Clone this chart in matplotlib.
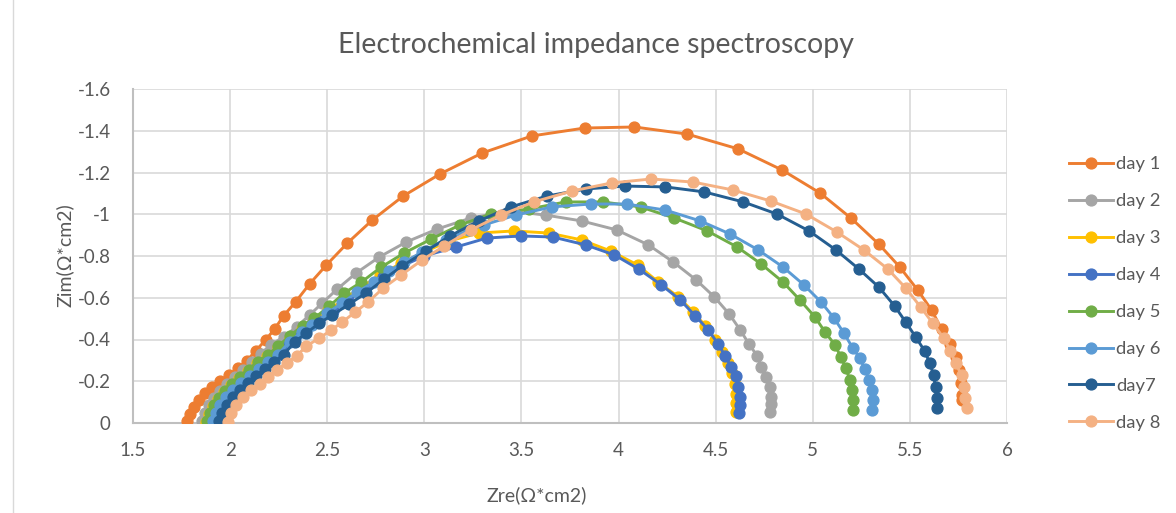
import matplotlib.pyplot as plt
from matplotlib.lines import Line2D

# Nyquist data: Zre (ohm*cm2) and |Zim| (ohm*cm2)
day1_zre = [1.777, 1.793, 1.813, 1.839, 1.870, 1.906, 1.947, 1.993, 2.039, 2.085, 2.131,
            2.183, 2.229, 2.275, 2.337, 2.409, 2.496, 2.604, 2.732, 2.891, 3.081, 3.297,
            3.553, 3.825, 4.082, 4.354, 4.616, 4.842, 5.037, 5.196, 5.340, 5.448, 5.540,
            5.612, 5.663, 5.704, 5.735, 5.751, 5.761, 5.766, 5.766]
day1_zim = [0.010, 0.043, 0.077, 0.110, 0.144, 0.172, 0.201, 0.230, 0.263, 0.297, 0.345,
            0.398, 0.450, 0.513, 0.580, 0.666, 0.757, 0.862, 0.972, 1.087, 1.193, 1.293,
            1.375, 1.413, 1.418, 1.384, 1.313, 1.212, 1.102, 0.982, 0.857, 0.747, 0.637,
            0.541, 0.450, 0.378, 0.316, 0.254, 0.192, 0.134, 0.110]

day2_zre = [1.854, 1.870, 1.890, 1.916, 1.947, 1.983, 2.024, 2.065, 2.111, 2.157, 2.208,
            2.275, 2.342, 2.409, 2.475, 2.552, 2.650, 2.768, 2.907, 3.066, 3.240, 3.435,
            3.625, 3.810, 3.990, 4.154, 4.282, 4.400, 4.493, 4.570, 4.626, 4.672, 4.714,
            4.734, 4.760, 4.780, 4.785, 4.785, 4.780]
day2_zim = [0.010, 0.048, 0.086, 0.120, 0.153, 0.187, 0.220, 0.254, 0.292, 0.331, 0.374,
            0.412, 0.460, 0.517, 0.575, 0.642, 0.719, 0.795, 0.867, 0.929, 0.982, 1.016,
            0.996, 0.968, 0.925, 0.853, 0.771, 0.685, 0.604, 0.522, 0.446, 0.378, 0.321,
            0.268, 0.220, 0.172, 0.125, 0.091, 0.053]

day3_zre = [1.875, 1.890, 1.911, 1.936, 1.967, 2.003, 2.044, 2.090, 2.137, 2.188, 2.244,
            2.306, 2.368, 2.434, 2.506, 2.588, 2.676, 2.773, 2.881, 2.999, 3.127, 3.281,
            3.461, 3.641, 3.810, 3.959, 4.098, 4.205, 4.308, 4.385, 4.447, 4.498, 4.534,
            4.565, 4.585, 4.601, 4.606, 4.606, 4.606]
day3_zim = [0.005, 0.043, 0.081, 0.115, 0.149, 0.182, 0.216, 0.249, 0.287, 0.321, 0.364,
            0.407, 0.450, 0.493, 0.541, 0.594, 0.652, 0.709, 0.766, 0.819, 0.872, 0.910,
            0.920, 0.910, 0.877, 0.824, 0.757, 0.675, 0.604, 0.532, 0.465, 0.398, 0.340,
            0.287, 0.240, 0.187, 0.139, 0.096, 0.053]

day4_zre = [1.900, 1.916, 1.936, 1.962, 1.993, 2.029, 2.070, 2.116, 2.162, 2.214, 2.270,
            2.332, 2.393, 2.460, 2.532, 2.609, 2.696, 2.789, 2.886, 2.999, 3.163, 3.322,
            3.497, 3.661, 3.831, 3.979, 4.103, 4.221, 4.318, 4.395, 4.462, 4.513, 4.549,
            4.580, 4.606, 4.616, 4.626, 4.626, 4.621]
day4_zim = [0.010, 0.048, 0.086, 0.120, 0.153, 0.187, 0.220, 0.254, 0.287, 0.321, 0.364,
            0.407, 0.446, 0.489, 0.537, 0.589, 0.642, 0.699, 0.752, 0.800, 0.843, 0.886,
            0.896, 0.891, 0.853, 0.805, 0.738, 0.661, 0.589, 0.513, 0.446, 0.378, 0.321,
            0.268, 0.225, 0.172, 0.125, 0.086, 0.048]

day5_zre = [1.880, 1.895, 1.916, 1.941, 1.972, 2.008, 2.049, 2.095, 2.142, 2.193, 2.249,
            2.306, 2.373, 2.434, 2.511, 2.588, 2.676, 2.778, 2.896, 3.035, 3.184, 3.343,
            3.538, 3.728, 3.918, 4.113, 4.287, 4.457, 4.611, 4.734, 4.847, 4.934, 5.011,
            5.063, 5.114, 5.145, 5.170, 5.191, 5.201, 5.206, 5.206]
day5_zim = [0.010, 0.048, 0.086, 0.120, 0.153, 0.187, 0.220, 0.254, 0.292, 0.326, 0.369,
            0.417, 0.465, 0.503, 0.560, 0.623, 0.675, 0.747, 0.814, 0.881, 0.949, 1.001,
            1.025, 1.059, 1.059, 1.035, 0.982, 0.920, 0.843, 0.762, 0.675, 0.589, 0.508,
            0.436, 0.374, 0.316, 0.263, 0.206, 0.158, 0.110, 0.062]

day6_zre = [1.911, 1.926, 1.947, 1.977, 2.013, 2.054, 2.101, 2.147, 2.193, 2.244, 2.306,
            2.368, 2.424, 2.501, 2.578, 2.655, 2.742, 2.819, 2.896, 2.989, 3.112, 3.230,
            3.307, 3.471, 3.656, 3.856, 4.041, 4.241, 4.421, 4.575, 4.719, 4.847, 4.955,
            5.042, 5.109, 5.160, 5.206, 5.242, 5.268, 5.289, 5.304, 5.309, 5.304]
day6_zim = [0.010, 0.048, 0.086, 0.125, 0.158, 0.192, 0.225, 0.259, 0.292, 0.326, 0.388,
            0.436, 0.469, 0.527, 0.575, 0.628, 0.675, 0.728, 0.771, 0.819, 0.877, 0.925,
            0.949, 0.996, 1.035, 1.049, 1.049, 1.020, 0.968, 0.905, 0.829, 0.747, 0.661,
            0.580, 0.503, 0.431, 0.359, 0.311, 0.259, 0.206, 0.158, 0.110, 0.062]

day7_zre = [1.941, 1.957, 1.983, 2.013, 2.049, 2.090, 2.131, 2.178, 2.224, 2.275, 2.332,
            2.393, 2.460, 2.527, 2.614, 2.701, 2.794, 2.886, 3.009, 3.132, 3.281, 3.446,
            3.630, 3.831, 4.031, 4.241, 4.441, 4.642, 4.816, 4.981, 5.119, 5.237, 5.340,
            5.422, 5.478, 5.530, 5.576, 5.602, 5.622, 5.632, 5.638, 5.638]
day7_zim = [0.010, 0.048, 0.086, 0.125, 0.158, 0.192, 0.225, 0.259, 0.292, 0.326, 0.388,
            0.431, 0.479, 0.517, 0.570, 0.623, 0.690, 0.752, 0.824, 0.896, 0.968, 1.035,
            1.087, 1.121, 1.135, 1.131, 1.107, 1.059, 1.001, 0.920, 0.829, 0.738, 0.651,
            0.560, 0.484, 0.412, 0.345, 0.287, 0.230, 0.172, 0.120, 0.072]

day8_zre = [1.988, 2.003, 2.029, 2.065, 2.106, 2.152, 2.193, 2.239, 2.291, 2.342, 2.393,
            2.460, 2.522, 2.578, 2.645, 2.711, 2.789, 2.881, 2.989, 3.102, 3.240, 3.394,
            3.564, 3.759, 3.964, 4.169, 4.385, 4.590, 4.785, 4.965, 5.124, 5.263, 5.386,
            5.478, 5.555, 5.617, 5.674, 5.709, 5.735, 5.766, 5.781, 5.786, 5.792]
day8_zim = [0.005, 0.048, 0.086, 0.125, 0.158, 0.187, 0.220, 0.254, 0.287, 0.321, 0.369,
            0.407, 0.446, 0.484, 0.532, 0.580, 0.647, 0.709, 0.781, 0.848, 0.925, 0.996,
            1.059, 1.111, 1.150, 1.169, 1.154, 1.116, 1.063, 1.001, 0.915, 0.829, 0.738,
            0.647, 0.556, 0.479, 0.407, 0.345, 0.287, 0.230, 0.172, 0.120, 0.072]

labels = ["day 1", "day 2", "day 3", "day 4", "day 5", "day 6", "day7", "day 8"]
colors = ["#ED7D31", "#A5A5A5", "#FFC000", "#4472C4", "#70AD47", "#5B9BD5", "#255E91", "#F4B183"]
series = [(day1_zre, day1_zim), (day2_zre, day2_zim), (day3_zre, day3_zim), (day4_zre, day4_zim),
          (day5_zre, day5_zim), (day6_zre, day6_zim), (day7_zre, day7_zim), (day8_zre, day8_zim)]

plt.rcParams['font.family'] = ['Lato', 'DejaVu Sans']
text_color = "#595959"

fig = plt.figure(figsize=(11.76, 5.13), dpi=100)
ax = fig.add_axes([133 / 1176, 1 - 423 / 513, (1007 - 133) / 1176, (423 - 89) / 513])

for (zre, zim), lab, col in zip(series, labels, colors):
    ax.plot(zre, [-v for v in zim], color=col, lw=2.1, marker="o", ms=7.8,
            label=lab, solid_joinstyle="round", zorder=3)

ax.set_xlim(1.5, 6)
ax.set_ylim(0, -1.6)
ax.set_xticks([1.5, 2, 2.5, 3, 3.5, 4, 4.5, 5, 5.5, 6])
ax.set_yticks([0, -0.2, -0.4, -0.6, -0.8, -1, -1.2, -1.4, -1.6])
ax.set_xticklabels(["%g" % t for t in ax.get_xticks()])
ax.set_yticklabels(["%g" % t for t in ax.get_yticks()])
ax.tick_params(length=0, labelsize=13.5, colors=text_color)
ax.tick_params(axis="x", pad=14)
ax.tick_params(axis="y", pad=16)
ax.grid(True, color="#D9D9D9", lw=1.2, zorder=0)
ax.set_axisbelow(True)
for side in ["top", "right"]:
    ax.spines[side].set_visible(False)
for side in ["left", "bottom"]:
    ax.spines[side].set_color("#BFBFBF")
    ax.spines[side].set_linewidth(1.5)

fig.text(596 / 1176, 1 - 45 / 513, "Electrochemical impedance spectroscopy",
         ha="center", va="center", fontsize=20.5, color=text_color)
fig.text(537 / 1176, 1 - 495 / 513, "Zre(Ω*cm2)", ha="center", va="center",
         fontsize=14, color=text_color)
fig.text(65 / 1176, 1 - 255 / 513, "Zim(Ω*cm2)", ha="center", va="center",
         rotation=90, fontsize=14, color=text_color)

handles = [Line2D([], [], color=c, lw=2.1, marker="o", ms=7.8) for c in colors]
leg = fig.legend(handles, labels, loc="upper left", bbox_to_anchor=(1052 / 1176, 1 - 140 / 513),
                 frameon=False, fontsize=13.2, labelspacing=1.14, handlelength=2.4,
                 handletextpad=0.2, labelcolor=text_color)

fig.add_artist(Line2D([13 / 1176, 13 / 1176], [0, 1], transform=fig.transFigure,
                      color="#D9D9D9", lw=1))

fig.savefig("out.png", dpi=100)
